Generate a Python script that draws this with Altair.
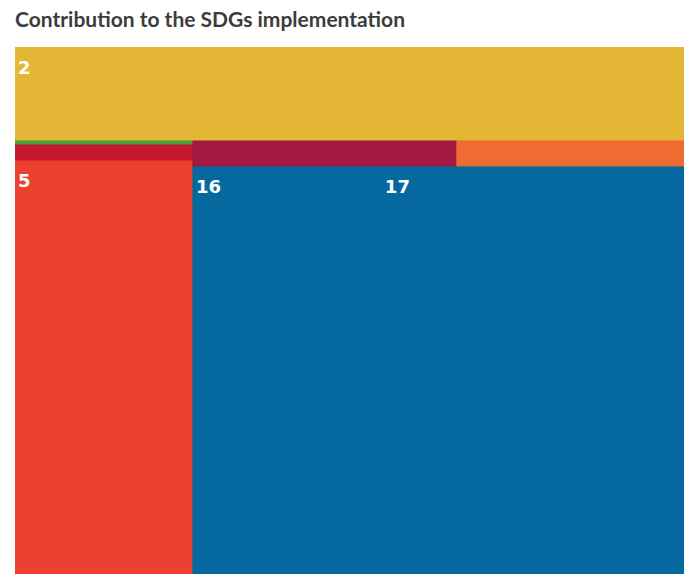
import altair as alt
import pandas as pd

# SDG contribution values (visible shares of the treemap, in thousands)
sdgs = [2, 3, 4, 5, 8, 9, 16, 17]
values = [63.6, 0.71, 2.85, 74.9, 6.86, 6.11, 78.4, 128.7]
colors = ["#E3B735", "#4C9F38", "#C51A2D", "#EA4130", "#A21942", "#EE6B32", "#05689F", "#05689F"]
show_label = [True, False, False, True, False, False, True, True]

# nesting used by the treemap layout: (direction, children)
# "v" = stacked top to bottom, "h" = side by side
tree = ("v", [2, ("h", [("v", [3, 4, 5]), ("v", [("h", [8, 9]), ("h", [16, 17])])])])

# full treemap extent (layout units) and the visible window of it
W, H = 677.0, 535.0
VW, VH = 669.0, 527.0
val = dict(zip(sdgs, values))


def total(node):
    if isinstance(node, tuple):
        return sum(total(c) for c in node[1])
    return val[node]


rects = {}


def layout(node, x0, y0, x1, y1):
    if not isinstance(node, tuple):
        rects[node] = (x0, y0, x1, y1)
        return
    d, children = node
    t = total(node)
    pos = x0 if d == "h" else y0
    for c in children:
        frac = total(c) / t
        if d == "h":
            nxt = pos + (x1 - x0) * frac
            layout(c, pos, y0, nxt, y1)
        else:
            nxt = pos + (y1 - y0) * frac
            layout(c, x0, pos, x1, nxt)
        pos = nxt


layout(tree, 0, 0, W, H)

df = pd.DataFrame({
    "sdg": [str(s) for s in sdgs],
    "value": values,
    "x0": [rects[s][0] for s in sdgs],
    "y0": [rects[s][1] for s in sdgs],
    "x1": [rects[s][2] for s in sdgs],
    "y1": [rects[s][3] for s in sdgs],
    "label": show_label,
})

xs = alt.Scale(domain=[0, VW], nice=False, zero=False)
ys = alt.Scale(domain=[0, VH], nice=False, zero=False, reverse=True)
cs = alt.Scale(domain=[str(s) for s in sdgs], range=colors)

base = alt.Chart(df)

rect = base.mark_rect(strokeWidth=1, clip=True).encode(
    x=alt.X("x0:Q", scale=xs, axis=None),
    x2="x1:Q",
    y=alt.Y("y0:Q", scale=ys, axis=None),
    y2="y1:Q",
    color=alt.Color("sdg:N", scale=cs, legend=None),
    stroke=alt.Stroke("sdg:N", scale=cs, legend=None),
)

text = base.transform_filter("datum.label").mark_text(
    align="left", baseline="alphabetic", dx=3, dy=26.5,
    font="DejaVu Sans", fontSize=18, fontWeight="bold", color="white",
).encode(
    x=alt.X("x0:Q", scale=xs, axis=None),
    y=alt.Y("y0:Q", scale=ys, axis=None),
    text="sdg:N",
)

chart = alt.layer(rect, text).properties(
    width=VW, height=VH,
    title=alt.TitleParams(
        "Contribution to the SDGs implementation",
        anchor="start", font="Lato", fontSize=21, fontWeight="bold",
        color="#3C3C3C", offset=16,
    ),
    padding={"left": 7, "top": 39, "right": 0, "bottom": 0},
    autosize=alt.AutoSizeParams(type="none"),
).configure_view(stroke=None)

chart.save("out.html", embed_options={"renderer": "svg", "actions": False})
